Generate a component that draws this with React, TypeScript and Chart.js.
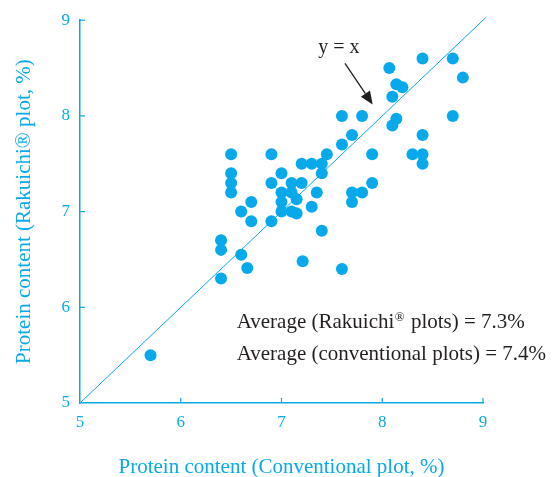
import React, { useEffect, useRef } from "react";
import { Chart, registerables } from "chart.js";

Chart.register(...registerables);

const conventional = [
  5.7, 6.4, 6.4, 6.4, 6.6, 6.66, 6.5, 6.5, 6.5, 6.5, 6.6, 6.7, 6.7, 6.9, 6.9, 6.9,
  7.0, 7.0, 7.0, 7.0, 7.1, 7.1, 7.1, 7.15, 7.15, 7.2, 7.2, 7.3, 7.4, 7.4, 7.45,
  7.35, 7.3, 7.4, 7.21, 7.6, 7.6, 7.7, 7.6, 7.8, 7.9, 7.9, 7.7, 7.8, 7.7, 8.07,
  8.14, 8.2, 8.1, 8.14, 8.1, 8.4, 8.7, 8.8, 8.7, 8.4, 8.3, 8.4, 8.4,
];
const rakuichi = [
  5.5, 6.3, 6.6, 6.7, 6.55, 6.41, 7.2, 7.3, 7.4, 7.6, 7.0, 7.1, 6.9, 6.9, 7.3, 7.6,
  7.4, 7.2, 7.1, 7.0, 7.3, 7.2, 7.0, 7.13, 6.98, 7.3, 7.5, 7.5, 7.5, 7.4, 7.6,
  7.2, 7.05, 6.8, 6.48, 6.4, 7.7, 7.8, 8.0, 8.0, 7.6, 7.3, 7.2, 7.2, 7.1, 8.5,
  8.33, 8.3, 8.2, 7.97, 7.9, 8.6, 8.6, 8.4, 8.0, 7.8, 7.6, 7.6, 7.5,
];
const identityLine = [5, 9.03];
const axisMin = 5;
const axisMax = 9;
const xTitle = "Protein content (Conventional plot, %)";
const yTitle = "Protein content (Rakuichi® plot, %)";
const identityLabel = "y = x";
const avgRakuichi = 7.3;
const avgConventional = 7.4;

const CYAN = "#08a9ea";
const DARK = "#231f20";
const FONT = "'Liberation Serif', 'Times New Roman', serif";

const overlayPlugin = {
  id: "overlay",
  afterDraw(chart: any) {
    const { ctx, scales } = chart;
    const xs = scales.x;
    const ys = scales.y;
    const area = chart.chartArea;
    ctx.save();
    // inward tick marks
    ctx.strokeStyle = CYAN;
    ctx.lineWidth = 1.2;
    xs.ticks.forEach((t: any) => {
      if (t.value === axisMin) return;
      const px = xs.getPixelForValue(t.value);
      ctx.beginPath();
      ctx.moveTo(px, area.bottom);
      ctx.lineTo(px, area.bottom - 5);
      ctx.stroke();
    });
    ys.ticks.forEach((t: any) => {
      if (t.value === axisMin) return;
      const py = ys.getPixelForValue(t.value);
      ctx.beginPath();
      ctx.moveTo(area.left, py);
      ctx.lineTo(area.left + 5, py);
      ctx.stroke();
    });

    // y = x label and arrow
    ctx.fillStyle = DARK;
    ctx.font = `20px ${FONT}`;
    ctx.textAlign = "center";
    ctx.textBaseline = "alphabetic";
    ctx.fillText(identityLabel, xs.getPixelForValue(7.57), ys.getPixelForValue(8.66));

    const x0 = xs.getPixelForValue(7.63);
    const y0 = ys.getPixelForValue(8.55);
    const x1 = xs.getPixelForValue(7.905);
    const y1 = ys.getPixelForValue(8.12);
    const ang = Math.atan2(y1 - y0, x1 - x0);
    const head = 13;
    const hw = 5.5;
    ctx.strokeStyle = DARK;
    ctx.lineWidth = 1.3;
    ctx.beginPath();
    ctx.moveTo(x0, y0);
    ctx.lineTo(x1 - Math.cos(ang) * head, y1 - Math.sin(ang) * head);
    ctx.stroke();
    ctx.beginPath();
    ctx.moveTo(x1, y1);
    ctx.lineTo(
      x1 - Math.cos(ang) * head + Math.sin(ang) * hw,
      y1 - Math.sin(ang) * head - Math.cos(ang) * hw
    );
    ctx.lineTo(
      x1 - Math.cos(ang) * head - Math.sin(ang) * hw,
      y1 - Math.sin(ang) * head + Math.cos(ang) * hw
    );
    ctx.closePath();
    ctx.fill();

    // averages text
    ctx.textAlign = "left";
    const tx = xs.getPixelForValue(6.555);
    const line1 = ys.getPixelForValue(5.78);
    const line2 = ys.getPixelForValue(5.45);
    const big = `21px ${FONT}`;
    const small = `13px ${FONT}`;
    ctx.font = big;
    const p1 = "Average (Rakuichi";
    ctx.fillText(p1, tx, line1);
    let cx = tx + ctx.measureText(p1).width;
    ctx.font = small;
    ctx.fillText("®", cx + 0.5, line1 - 7);
    cx += ctx.measureText("®").width + 1.5;
    ctx.font = big;
    ctx.fillText(` plots) = ${avgRakuichi}%`, cx, line1);
    ctx.fillText(`Average (conventional plots) = ${avgConventional}%`, tx, line2);
    ctx.restore();
  },
};

export default function App() {
  const ref = useRef<HTMLCanvasElement | null>(null);
  useEffect(() => {
    document.body.style.margin = "0";
    if (!ref.current) return;
    const points = conventional.map((x, i) => ({ x, y: rakuichi[i] }));
    const chart = new Chart(ref.current, {
      type: "scatter",
      data: {
        datasets: [
          {
            label: "samples",
            data: points,
            backgroundColor: CYAN,
            borderWidth: 0,
            pointRadius: 6,
            order: 0,
          },
          {
            type: "line",
            label: "y = x",
            data: identityLine.map((v) => ({ x: v, y: v })),
            borderColor: CYAN,
            borderWidth: 1,
            pointRadius: 0,
            showLine: true,
            fill: false,
            clip: false,
            order: 1,
          } as any,
        ],
      },
      options: {
        responsive: false,
        animation: false,
        layout: { padding: { top: 19, right: 72, left: 0, bottom: 0 } },
        plugins: { legend: { display: false }, tooltip: { enabled: false } },
        scales: {
          x: {
            type: "linear",
            min: axisMin,
            max: axisMax,
            ticks: {
              stepSize: 1,
              color: CYAN,
              font: { family: FONT, size: 17 },
              padding: 9,
            },
            grid: { display: false, drawTicks: false },
            border: { display: true, color: CYAN, width: 1.5 },
            title: {
              display: true,
              text: xTitle,
              color: CYAN,
              font: { family: FONT, size: 21 },
              padding: { top: 0, bottom: -3 },
            },
            afterFit: (s: any) => {
              s.height = 74;
            },
          },
          y: {
            type: "linear",
            min: axisMin,
            max: axisMax,
            ticks: {
              stepSize: 1,
              color: CYAN,
              font: { family: FONT, size: 17 },
              padding: 10,
            },
            grid: { display: false, drawTicks: false },
            border: { display: true, color: CYAN, width: 1.5 },
            title: {
              display: true,
              text: yTitle,
              color: CYAN,
              font: { family: FONT, size: 21 },
              padding: { top: 12, bottom: 0 },
            },
            afterFit: (s: any) => {
              s.width = 80;
            },
          },
        },
      },
      plugins: [overlayPlugin],
    });
    return () => chart.destroy();
  }, []);
  return (
    <div style={{ width: 555, height: 477 }}>
      <canvas ref={ref} width={555} height={477} style={{ display: "block" }} />
    </div>
  );
}
